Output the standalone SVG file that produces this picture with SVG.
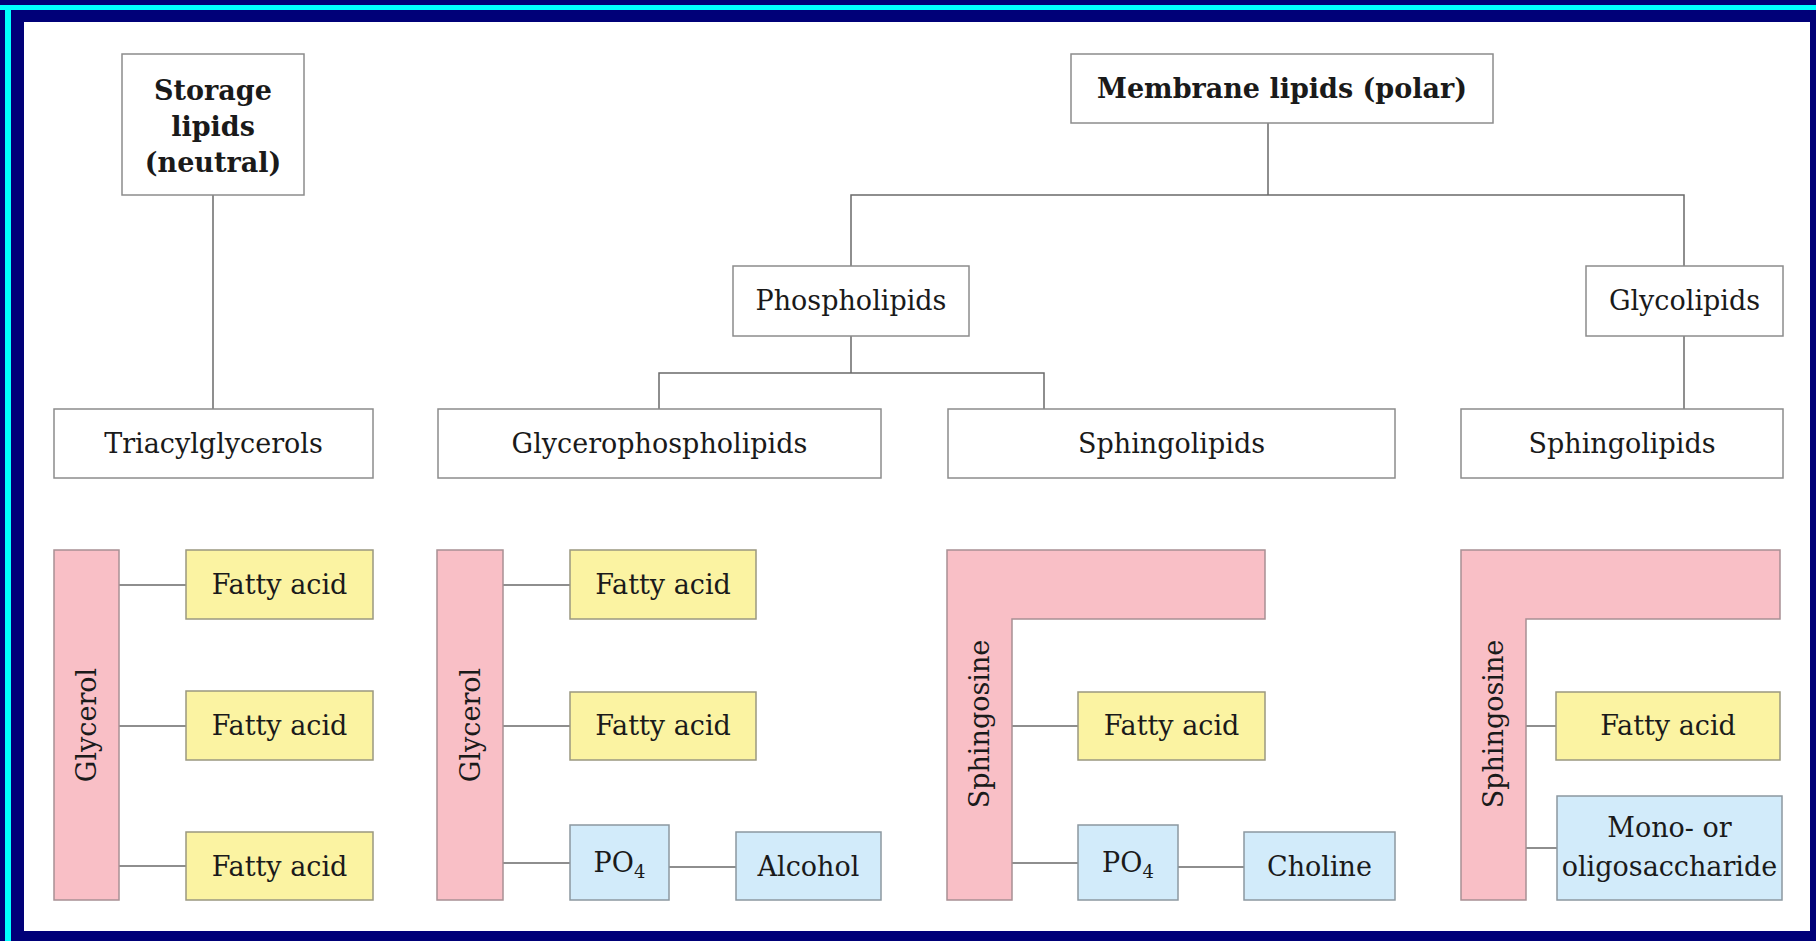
<svg xmlns="http://www.w3.org/2000/svg" width="1816" height="941" viewBox="0 0 1816 941">
<style>
.t{font-family:"DejaVu Serif","Liberation Serif",serif;font-size:27px;fill:#1a1a1a;text-anchor:middle}
.b{font-weight:bold}
.box{fill:#fff;stroke:#8c8c8c;stroke-width:1.5}
.pink{fill:#F9BFC6;stroke:#a89094;stroke-width:1.5}
.yel{fill:#FBF3A2;stroke:#9a9880;stroke-width:1.5}
.blu{fill:#D2EBFA;stroke:#8c98a0;stroke-width:1.5}
.c{stroke:#6a6a6a;stroke-width:1.5;fill:none}
</style>
<g id="frame">
<rect x="0" y="0" width="1816" height="941" fill="#000078"/>
<rect x="0" y="5" width="1816" height="5" fill="#00FFFF"/>
<rect x="5" y="5" width="6" height="936" fill="#00FFFF"/>
<rect x="24" y="22" width="1786" height="909" fill="#fff"/>
</g>
<g id="connectors">
<path class="c" d="M213 195V409"/>
<path class="c" d="M1268 123V195M851 266V195H1684V266"/>
<path class="c" d="M851 336V373M659 409V373H1044V409"/>
<path class="c" d="M1684 336V409"/>
<path class="c" d="M119 585H186M119 726H186M119 866H186"/>
<path class="c" d="M503 585H570M503 726H570M503 863H570M669 867H736"/>
<path class="c" d="M1012 726H1078M1012 863H1078M1178 867H1244"/>
<path class="c" d="M1526 726H1556M1526 848H1557"/>
</g>
<g id="storage">
<rect class="box" x="122" y="54" width="182" height="141"/>
<text class="t b" x="213" y="100">Storage</text>
<text class="t b" x="213" y="136">lipids</text>
<text class="t b" x="213" y="172">(neutral)</text>
</g>
<g id="membrane">
<rect class="box" x="1071" y="54" width="422" height="69"/>
<text class="t b" x="1282" y="98">Membrane lipids (polar)</text>
</g>
<g id="phospholipids">
<rect class="box" x="733" y="266" width="236" height="70"/>
<text class="t" x="851" y="310">Phospholipids</text>
</g>
<g id="glycolipids">
<rect class="box" x="1586" y="266" width="197" height="70"/>
<text class="t" x="1684.5" y="310">Glycolipids</text>
</g>
<g id="triacylglycerols">
<rect class="box" x="54" y="409" width="319" height="69"/>
<text class="t" x="213.5" y="453">Triacylglycerols</text>
</g>
<g id="glycerophospholipids">
<rect class="box" x="438" y="409" width="443" height="69"/>
<text class="t" x="659.5" y="453">Glycerophospholipids</text>
</g>
<g id="sphingolipids1">
<rect class="box" x="948" y="409" width="447" height="69"/>
<text class="t" x="1171.5" y="453">Sphingolipids</text>
</g>
<g id="sphingolipids2">
<rect class="box" x="1461" y="409" width="322" height="69"/>
<text class="t" x="1622" y="453">Sphingolipids</text>
</g>
<g id="tag">
<rect class="pink" x="54" y="550" width="65" height="350"/>
<text class="t" transform="translate(86.5 725) rotate(-90)" x="0" y="9.5">Glycerol</text>
<rect class="yel" x="186" y="550" width="187" height="69"/>
<text class="t" x="279.5" y="594">Fatty acid</text>
<rect class="yel" x="186" y="691" width="187" height="69"/>
<text class="t" x="279.5" y="735">Fatty acid</text>
<rect class="yel" x="186" y="832" width="187" height="68"/>
<text class="t" x="279.5" y="876">Fatty acid</text>
</g>
<g id="gpl">
<rect class="pink" x="437" y="550" width="66" height="350"/>
<text class="t" transform="translate(470 725) rotate(-90)" x="0" y="9.5">Glycerol</text>
<rect class="yel" x="570" y="550" width="186" height="69"/>
<text class="t" x="663" y="594">Fatty acid</text>
<rect class="yel" x="570" y="692" width="186" height="68"/>
<text class="t" x="663" y="735">Fatty acid</text>
<rect class="blu" x="570" y="825" width="99" height="75"/>
<text class="t" x="619.5" y="872">PO<tspan font-size="18" dy="6">4</tspan></text>
<rect class="blu" x="736" y="832" width="145" height="68"/>
<text class="t" x="808.5" y="876">Alcohol</text>
</g>
<g id="sphingo1">
<path class="pink" d="M947 550H1265V619H1012V900H947Z"/>
<text class="t" transform="translate(979.5 724) rotate(-90)" x="0" y="9.5">Sphingosine</text>
<rect class="yel" x="1078" y="692" width="187" height="68"/>
<text class="t" x="1171.5" y="735">Fatty acid</text>
<rect class="blu" x="1078" y="825" width="100" height="75"/>
<text class="t" x="1128" y="872">PO<tspan font-size="18" dy="6">4</tspan></text>
<rect class="blu" x="1244" y="832" width="151" height="68"/>
<text class="t" x="1319.5" y="876">Choline</text>
</g>
<g id="sphingo2">
<path class="pink" d="M1461 550H1780V619H1526V900H1461Z"/>
<text class="t" transform="translate(1493.5 724) rotate(-90)" x="0" y="9.5">Sphingosine</text>
<rect class="yel" x="1556" y="692" width="224" height="68"/>
<text class="t" x="1668" y="735">Fatty acid</text>
<rect class="blu" x="1557" y="796" width="225" height="104"/>
<text class="t" x="1669.5" y="837">Mono- or</text>
<text class="t" x="1669.5" y="876">oligosaccharide</text>
</g>
</svg>
